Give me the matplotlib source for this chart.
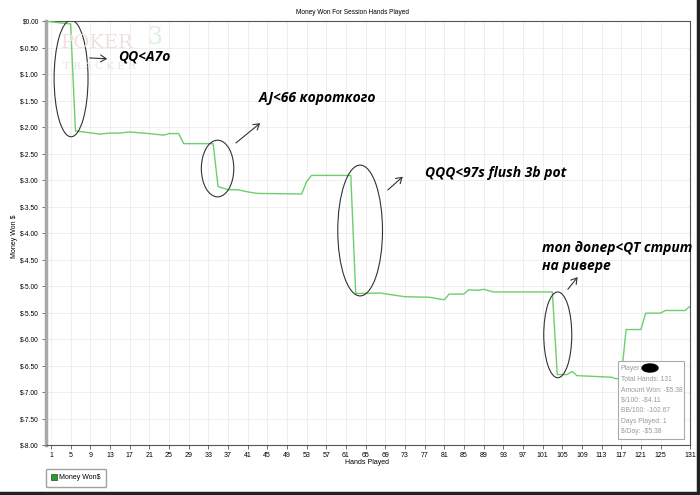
import matplotlib
matplotlib.use("Agg")
import matplotlib.pyplot as plt
from matplotlib.patches import Ellipse, Rectangle, FancyArrowPatch
from matplotlib.lines import Line2D

plt.rcParams["text.parse_math"] = False

# ---- data ----
hands = [0, 5, 6, 11, 13, 15, 17, 21, 24, 25, 27, 28, 34, 35, 37, 39, 41, 43,
         52, 53, 54, 62, 63, 68, 70, 73, 78, 81, 82, 85, 86, 88, 89, 91, 103,
         104, 106, 107, 108, 115, 116, 117, 118, 121, 122, 125, 126, 130, 131]
money = [0.00, -0.05, -2.07, -2.13, -2.11, -2.11, -2.09, -2.12, -2.15, -2.12,
         -2.12, -2.31, -2.31, -3.12, -3.18, -3.18, -3.22, -3.25, -3.26, -3.03,
         -2.91, -2.91, -5.14, -5.13, -5.16, -5.20, -5.21, -5.26, -5.15, -5.15,
         -5.07, -5.08, -5.06, -5.11, -5.11, -6.67, -6.67, -6.61, -6.69, -6.72,
         -6.75, -6.74, -5.82, -5.82, -5.51, -5.51, -5.46, -5.46, -5.38]
x_ticks = list(range(1, 126, 4)) + [131]
y_ticks = [v / 2 for v in range(0, -17, -1)]

title = "Money Won For Session Hands Played"
x_label = "Hands Played"
y_label = "Money Won $"
series_name = "Money Won$"

info_lines = ["Player:", "Total Hands: 131", "Amount Won: -$5.38", "$/100: -$4.11",
              "BB/100: -102.67", "Days Played: 1", "$/Day: -$5.38"]

notes = ["QQ<A7o", "AJ<66 короткого", "QQQ<97s flush 3b pot",
         "топ допер<QT стрит\nна ривере"]
note_pos = [(14.6, -0.66), (43.3, -1.45), (77.0, -2.86), (100.8, -4.45)]
circles = [(5.1, -1.08, 6.9, 2.2), (34.9, -2.78, 6.6, 1.07),
           (63.9, -3.95, 9.1, 2.47), (104.1, -5.92, 5.7, 1.62)]
arrows = [((8.3, -0.69), (13.0, -0.71)), ((38.2, -2.33), (44.0, -1.89)),
          ((69.1, -3.22), (73.0, -2.90)), ((105.8, -5.10), (108.5, -4.79))]

LINE = "#6ccf6c"
SMALL = ["Liberation Sans Narrow", "Liberation Sans", "DejaVu Sans"]

fig = plt.figure(figsize=(7.0, 4.95), dpi=100)
fig.patch.set_facecolor("white")
L, R, T, B = 46 / 700, 690 / 700, 1 - 21.3 / 495, 1 - 445 / 495
ax = fig.add_axes([L, B, R - L, T - B])

ax.plot(hands, money, color=LINE, lw=1.0, zorder=3)
ax.set_xlim(0, 131)
ax.set_ylim(-8, 0)
ax.set_xticks(x_ticks)
ax.set_xticklabels([str(t) for t in x_ticks], fontsize=5.0, family=SMALL)
ax.set_yticks(y_ticks)
ax.set_yticklabels([f"${v:.2f}" for v in y_ticks], fontsize=4.8, family=SMALL)
ax.grid(True, color="#ececec", lw=0.6)
ax.set_axisbelow(True)
ax.tick_params(length=3, width=0.6, color="#555555", pad=2)
for s in ["top", "right", "bottom"]:
    ax.spines[s].set_color("#555555")
    ax.spines[s].set_linewidth(0.8)
ax.spines["left"].set_color("#a8a8a8")
ax.spines["left"].set_linewidth(2.5)

fig.text(352 / 700, 1 - 13 / 495, title, fontsize=4.7, family=SMALL,
         ha="center", va="center")
fig.text(367 / 700, 1 - 462 / 495, x_label, fontsize=5.0, family=SMALL,
         ha="center", va="center")
fig.text(15 / 700, 1 - 236 / 495, y_label, fontsize=5.0, family=SMALL,
         ha="center", va="center", rotation=90)

# faint watermark
fig.text(61 / 700, 1 - 43.5 / 495, "POKER", fontsize=14, family="DejaVu Serif",
         color="#efe0e0", ha="left", va="center")
fig.text(63 / 700, 1 - 66.5 / 495, "T R A C K E R", fontsize=7.5, family="DejaVu Serif",
         color="#e4e4e4", ha="left", va="center")
fig.text(147 / 700, 1 - 38 / 495, "3", fontsize=17, family="DejaVu Serif",
         color="#deefde", ha="left", va="center")

# hand-drawn annotations
for (cx, cy, w, h) in circles:
    ax.add_patch(Ellipse((cx, cy), w, h, fill=False, ec="#333333", lw=0.8, zorder=4))
for (p0, p1) in arrows:
    ax.add_patch(FancyArrowPatch(p0, p1, arrowstyle="->,head_length=4,head_width=2.5",
                                 color="#333333", lw=0.8, zorder=4))
for txt, (nx, ny) in zip(notes, note_pos):
    ax.text(nx, ny, txt, fontsize=10, fontweight="bold", fontstyle="italic",
            family=["Open Sans", "DejaVu Sans"], ha="left", va="center",
            linespacing=1.3, zorder=5)

# info box
bx0, by0 = (617.7 - 46) / 644, (445 - 439) / 423.7
bw, bh = (684 - 617.7) / 644, (439 - 361) / 423.7
ax.add_patch(Rectangle((bx0, by0), bw, bh, transform=ax.transAxes, fc="white",
                       ec="#aaaaaa", lw=0.8, zorder=6))
for i, line in enumerate(info_lines):
    yy = 368.5 + i * 10.55
    ax.text(bx0 + 3 / 644, (445 - yy) / 423.7, line, transform=ax.transAxes,
            fontsize=4.9, family=SMALL, color="#9a9a9a", ha="left", va="center",
            zorder=7)
ax.add_patch(Ellipse(((650 - 46) / 644, (445 - 368) / 423.7), 16 / 644, 8 / 423.7,
                     transform=ax.transAxes, fc="black", ec="black", zorder=8))

# legend
handle = Line2D([], [], marker="s", ls="none", markersize=4.2,
                markerfacecolor="#2e9a2e", markeredgecolor="#1a4d1a", markeredgewidth=0.5)
fig.legend([handle], [series_name], loc="lower left",
           bbox_to_anchor=(45.7 / 700, 1 - 487 / 495), prop={"family": SMALL, "size": 5.0},
           frameon=True, edgecolor="#888888", fancybox=True, handletextpad=0.3,
           borderpad=0.8, handlelength=0.8, borderaxespad=0)

# screenshot frame
fig.add_artist(Line2D([697.5 / 700, 697.5 / 700], [0, 1], transform=fig.transFigure,
                      color="#222222", lw=2.5))
fig.add_artist(Line2D([0, 1], [1 - 492.5 / 495, 1 - 492.5 / 495], transform=fig.transFigure,
                      color="#222222", lw=2.5))

fig.savefig("out.png", dpi=100, facecolor="white")
